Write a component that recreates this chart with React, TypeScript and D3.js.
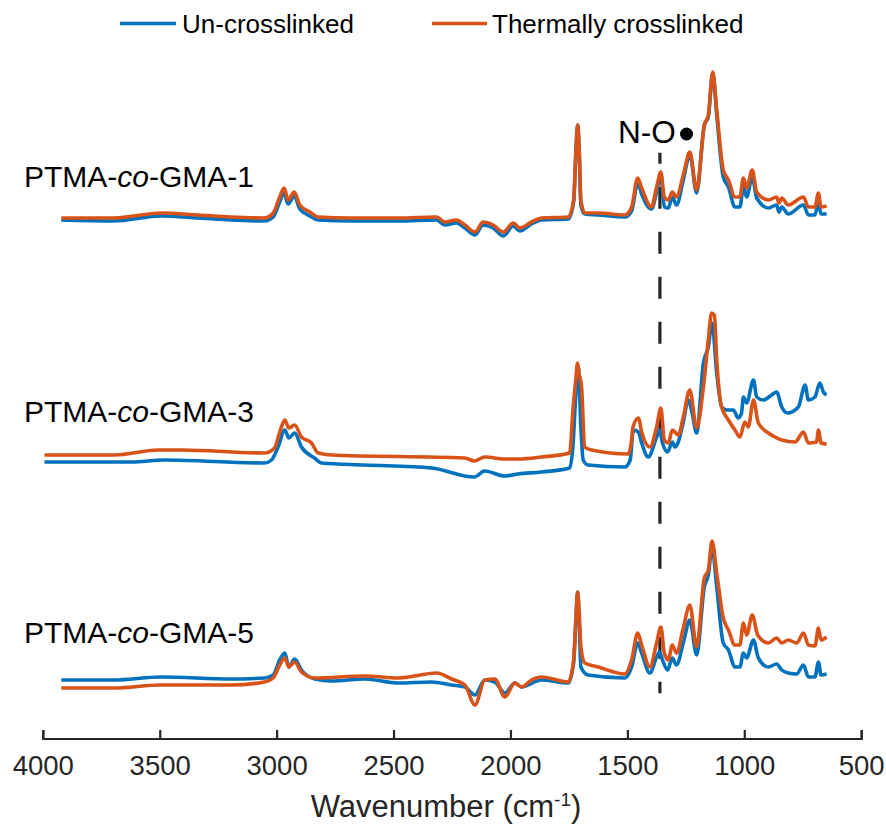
import React, { useEffect } from "react";
import * as d3 from "d3";

// Wavenumber (cm-1) / absorbance (a.u., stacked) pairs
const T1: [number, number][] = [
  [3923, 5.2], [3700, 5.2], [3495, 5.25], [3338, 5.23], [3200, 5.21], [3054, 5.2], [3017, 5.25], [2989, 5.41], [2970, 5.5], [2953, 5.38], [2927, 5.46], [2903, 5.33], [2860, 5.26], [2825, 5.21], [2682, 5.2], [2482, 5.2], [2318, 5.21], [2283, 5.16], [2233, 5.18], [2197, 5.13], [2154, 5.06], [2119, 5.16], [2076, 5.13], [2033, 5.06], [1990, 5.15], [1962, 5.1], [1912, 5.16], [1869, 5.2], [1755, 5.21], [1732, 5.38], [1722, 5.88], [1715, 6.13], [1708, 5.88], [1701, 5.38], [1684, 5.25], [1627, 5.25], [1513, 5.23], [1484, 5.31], [1458, 5.6], [1441, 5.5], [1399, 5.31], [1377, 5.51], [1359, 5.66], [1344, 5.41], [1327, 5.38], [1310, 5.46], [1292, 5.41], [1263, 5.63], [1235, 5.86], [1206, 5.48], [1173, 6.13], [1156, 6.23], [1137, 6.66], [1120, 6.28], [1092, 5.68], [1070, 5.58], [1042, 5.41], [1021, 5.41], [1006, 5.6], [992, 5.5], [968, 5.68], [949, 5.46], [899, 5.38], [864, 5.41], [854, 5.35], [842, 5.4], [814, 5.33], [749, 5.41], [728, 5.31], [700, 5.31], [685, 5.45], [674, 5.31], [650, 5.32],
];
const U1: [number, number][] = [
  [3923, 5.18], [3700, 5.17], [3495, 5.22], [3338, 5.2], [3200, 5.18], [3054, 5.17], [3017, 5.21], [2989, 5.36], [2970, 5.45], [2953, 5.34], [2927, 5.42], [2903, 5.29], [2860, 5.22], [2825, 5.18], [2682, 5.17], [2482, 5.17], [2318, 5.18], [2283, 5.13], [2233, 5.15], [2197, 5.1], [2154, 5.03], [2119, 5.13], [2076, 5.1], [2033, 5.02], [1990, 5.12], [1962, 5.07], [1912, 5.14], [1869, 5.18], [1755, 5.19], [1732, 5.36], [1722, 5.88], [1715, 6.13], [1708, 5.85], [1701, 5.33], [1684, 5.24], [1627, 5.23], [1513, 5.21], [1484, 5.27], [1458, 5.55], [1441, 5.44], [1399, 5.29], [1377, 5.46], [1359, 5.63], [1344, 5.31], [1327, 5.3], [1310, 5.41], [1292, 5.33], [1263, 5.58], [1235, 5.83], [1206, 5.45], [1173, 6.13], [1156, 6.21], [1137, 6.65], [1120, 6.23], [1092, 5.61], [1070, 5.51], [1042, 5.31], [1021, 5.31], [1006, 5.51], [992, 5.41], [968, 5.61], [949, 5.4], [899, 5.3], [864, 5.33], [854, 5.26], [842, 5.31], [814, 5.24], [749, 5.33], [728, 5.23], [700, 5.23], [685, 5.36], [674, 5.24], [650, 5.24],
];
const T3: [number, number][] = [
  [3995, 2.83], [3696, 2.83], [3509, 2.88], [3410, 2.88], [3054, 2.85], [3011, 2.9], [2990, 3.05], [2967, 3.18], [2950, 3.1], [2925, 3.13], [2896, 3.01], [2853, 2.95], [2825, 2.85], [2768, 2.83], [2198, 2.8], [2156, 2.77], [2113, 2.81], [2027, 2.79], [1969, 2.79], [1869, 2.81], [1749, 2.85], [1734, 3.31], [1724, 3.55], [1715, 3.75], [1710, 3.66], [1698, 3.51], [1685, 2.91], [1655, 2.88], [1498, 2.84], [1484, 2.98], [1478, 3.11], [1455, 3.2], [1441, 3.06], [1406, 2.91], [1377, 3.11], [1359, 3.3], [1344, 2.98], [1327, 2.95], [1310, 3.08], [1284, 3.03], [1263, 3.21], [1235, 3.48], [1206, 3.1], [1177, 3.51], [1156, 3.98], [1142, 4.25], [1130, 4.23], [1120, 3.78], [1099, 3.31], [1070, 3.18], [1042, 3.08], [1021, 3.01], [1000, 3.16], [985, 3.11], [963, 3.38], [942, 3.15], [899, 3.05], [871, 3.01], [842, 2.98], [785, 2.96], [749, 3.06], [728, 2.95], [693, 2.96], [685, 3.08], [674, 2.95], [650, 2.94],
];
const U3: [number, number][] = [
  [3995, 2.76], [3624, 2.76], [3482, 2.78], [3054, 2.75], [3024, 2.78], [2996, 2.91], [2967, 3.08], [2950, 3.0], [2925, 3.05], [2896, 2.91], [2840, 2.8], [2810, 2.75], [2626, 2.73], [2340, 2.7], [2156, 2.61], [2113, 2.67], [2027, 2.62], [1969, 2.64], [1869, 2.66], [1749, 2.7], [1734, 2.95], [1724, 3.38], [1712, 3.71], [1701, 3.11], [1691, 2.78], [1670, 2.73], [1513, 2.71], [1490, 2.78], [1477, 3.08], [1455, 3.06], [1441, 2.95], [1413, 2.81], [1377, 3.01], [1365, 3.08], [1352, 2.95], [1330, 2.86], [1310, 2.96], [1298, 2.91], [1286, 2.95], [1263, 3.16], [1242, 3.38], [1225, 3.25], [1206, 3.05], [1177, 3.75], [1156, 3.91], [1140, 4.15], [1120, 3.65], [1099, 3.31], [1077, 3.28], [1049, 3.28], [1028, 3.2], [1014, 3.25], [1006, 3.41], [992, 3.35], [963, 3.58], [949, 3.41], [921, 3.38], [885, 3.43], [864, 3.46], [842, 3.31], [817, 3.25], [771, 3.31], [742, 3.53], [728, 3.38], [700, 3.41], [679, 3.55], [664, 3.46], [650, 3.43],
];
const T5: [number, number][] = [
  [3923, 0.5], [3700, 0.5], [3495, 0.53], [3196, 0.53], [3054, 0.56], [3017, 0.6], [2989, 0.73], [2967, 0.8], [2950, 0.71], [2925, 0.76], [2896, 0.66], [2839, 0.6], [2625, 0.62], [2482, 0.6], [2318, 0.65], [2254, 0.59], [2197, 0.53], [2154, 0.33], [2112, 0.58], [2069, 0.59], [2026, 0.41], [1983, 0.55], [1955, 0.51], [1912, 0.58], [1869, 0.61], [1755, 0.56], [1732, 0.78], [1722, 1.2], [1715, 1.46], [1708, 1.25], [1701, 0.91], [1684, 0.75], [1627, 0.71], [1513, 0.64], [1484, 0.78], [1458, 1.05], [1441, 0.93], [1406, 0.71], [1377, 0.95], [1359, 1.11], [1344, 0.85], [1327, 0.78], [1310, 0.93], [1292, 0.85], [1263, 1.1], [1235, 1.33], [1206, 0.91], [1173, 1.6], [1156, 1.68], [1140, 1.97], [1120, 1.65], [1092, 1.2], [1070, 1.08], [1042, 0.93], [1021, 0.93], [1006, 1.15], [992, 1.03], [968, 1.23], [945, 1.03], [899, 0.95], [864, 1.0], [842, 0.95], [814, 0.98], [778, 0.95], [749, 1.05], [728, 0.93], [700, 0.92], [685, 1.1], [674, 0.98], [650, 1.01],
];
const U5: [number, number][] = [
  [3923, 0.58], [3700, 0.58], [3495, 0.61], [3196, 0.59], [3054, 0.6], [3017, 0.63], [2989, 0.78], [2967, 0.85], [2950, 0.71], [2925, 0.79], [2896, 0.68], [2839, 0.59], [2768, 0.57], [2625, 0.59], [2482, 0.55], [2340, 0.56], [2254, 0.53], [2197, 0.51], [2154, 0.43], [2112, 0.58], [2069, 0.56], [2026, 0.45], [1983, 0.55], [1955, 0.51], [1869, 0.58], [1755, 0.55], [1732, 0.75], [1722, 1.2], [1715, 1.46], [1708, 1.15], [1701, 0.71], [1670, 0.63], [1513, 0.6], [1484, 0.71], [1458, 0.95], [1441, 0.85], [1406, 0.65], [1377, 0.81], [1365, 0.86], [1352, 0.78], [1330, 0.68], [1310, 0.8], [1292, 0.73], [1263, 0.95], [1235, 1.18], [1206, 0.83], [1173, 1.51], [1156, 1.63], [1140, 1.91], [1120, 1.51], [1092, 0.95], [1070, 0.88], [1042, 0.71], [1021, 0.71], [1006, 0.85], [992, 0.8], [963, 0.98], [942, 0.8], [899, 0.71], [864, 0.74], [842, 0.68], [814, 0.65], [778, 0.64], [749, 0.73], [728, 0.61], [700, 0.61], [685, 0.76], [674, 0.63], [650, 0.64],
];

const sampleNames = ["1", "3", "5"];
const sampleLabelY = [5.51, 3.16, 0.95];
const seriesNames = ["Un-crosslinked", "Thermally crosslinked"];
const seriesColors = ["#0072BD", "#D95319"];
const xTicks = [4000, 3500, 3000, 2500, 2000, 1500, 1000, 500];
const noWavenumber = 1363;
const noLineRange = [0.447, 5.853];

const FONT = "'Liberation Sans', Arial, Helvetica, sans-serif";

export default function App() {
  useEffect(() => {
    document.body.style.margin = "0";
  }, []);
  const W = 886, H = 826;
  const x = d3.scaleLinear().domain([4000, 500]).range([43.3, 861.7]);
  const y = d3.scaleLinear().domain([0, 7]).range([738, 38]);
  const axisY = 739;
  const line = d3
    .line<[number, number]>()
    .x((d) => x(d[0]))
    .y((d) => y(d[1]))
    .curve(d3.curveMonotoneX);
  const pairs: [[number, number][], [number, number][]][] = [
    [U1, T1],
    [U3, T3],
    [U5, T5],
  ];
  const sw = 3.6;
  return (
    <svg width={W} height={H} style={{ position: "absolute", left: 0, top: 0, background: "#fff" }} fontFamily={FONT}>
      {/* dashed N-O line */}
      <line
        x1={x(noWavenumber)}
        x2={x(noWavenumber)}
        y1={y(noLineRange[1])}
        y2={y(noLineRange[0])}
        stroke="#262626"
        strokeWidth={3.2}
        strokeDasharray="22,23"
        strokeDashoffset={11}
      />
      {pairs.map(([u, t], i) => (
        <g key={i}>
          <path d={line(u) || ""} fill="none" stroke={seriesColors[0]} strokeWidth={sw} strokeLinejoin="round" />
          <path d={line(t) || ""} fill="none" stroke={seriesColors[1]} strokeWidth={sw} strokeLinejoin="round" />
          <text x={24} y={y(sampleLabelY[i])} fontSize={30} fill="#000">
            PTMA-<tspan fontStyle="italic">co</tspan>-GMA-{sampleNames[i]}
          </text>
        </g>
      ))}
      {/* N-O• label */}
      <text x={618} y={143.3} fontSize={31.5} fill="#000">N-O</text>
      <circle cx={686.5} cy={134} r={6.5} fill="#000" />
      {/* axis */}
      <path
        d={`M${x(4000)},${axisY - 9}V${axisY}H${x(500)}V${axisY - 9}`}
        fill="none"
        stroke="#262626"
        strokeWidth={2.2}
      />
      {xTicks.map((t) => (
        <g key={t}>
          <line x1={x(t)} x2={x(t)} y1={axisY} y2={axisY - 9} stroke="#262626" strokeWidth={2.2} />
          <text x={x(t)} y={775} fontSize={27.5} textAnchor="middle" fill="#262626">
            {t}
          </text>
        </g>
      ))}
      <text x={446} y={817} fontSize={31} textAnchor="middle" fill="#262626">
        Wavenumber (cm<tspan dy={-11} fontSize={19}>-1</tspan><tspan dy={11}>)</tspan>
      </text>
      {/* legend */}
      <g>
        <line x1={120} x2={176} y1={23.5} y2={23.5} stroke={seriesColors[0]} strokeWidth={sw} />
        <text x={182} y={33} fontSize={26} fill="#000">{seriesNames[0]}</text>
        <line x1={432} x2={487} y1={23.5} y2={23.5} stroke={seriesColors[1]} strokeWidth={sw} />
        <text x={492} y={33} fontSize={26} fill="#000">{seriesNames[1]}</text>
      </g>
    </svg>
  );
}
